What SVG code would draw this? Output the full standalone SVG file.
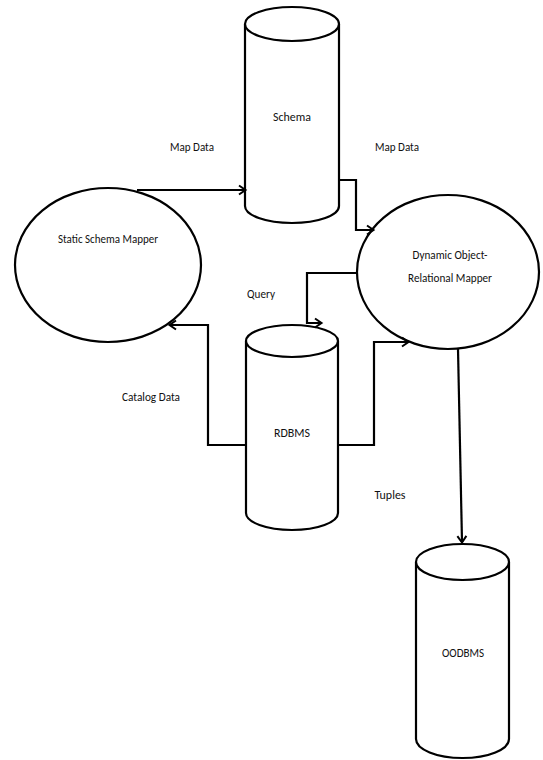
<svg xmlns="http://www.w3.org/2000/svg" width="543" height="760" viewBox="0 0 543 760">
<defs>
<marker id="arr" markerWidth="12" markerHeight="12" refX="9" refY="6" orient="auto" markerUnits="userSpaceOnUse">
<path d="M3,1.5 L9.5,6 L3,10.5" fill="none" stroke="#000" stroke-width="2"/>
</marker>
</defs>
<style>
.shape{fill:#fff;stroke:#000;stroke-width:2.2}
.line{fill:none;stroke:#000;stroke-width:2.2}
.conn{fill:none;stroke:#000;stroke-width:2.2;marker-end:url(#arr)}
text{font-family:Calibri,"Liberation Sans","DejaVu Sans",sans-serif;font-size:13px;fill:#111;text-anchor:middle}
</style>
<rect width="543" height="760" fill="#fff"/>
<g id="schema">
<path class="shape" d="M245,24 L245,206 A47,17 0 0 0 339,206 L339,24"/>
<ellipse class="shape" cx="292" cy="24" rx="47" ry="17"/>
<text x="292" y="121" textLength="38" lengthAdjust="spacingAndGlyphs">Schema</text>
</g>
<g id="rdbms">
<path class="shape" d="M246,341 L246,513 A46,17 0 0 0 338,513 L338,341"/>
<ellipse class="shape" cx="292" cy="341" rx="46" ry="16"/>
<text x="292" y="437" textLength="36" lengthAdjust="spacingAndGlyphs">RDBMS</text>
</g>
<g id="oodbms">
<path class="shape" d="M416,562 L416,739 A46.5,19 0 0 0 509,739 L509,562"/>
<ellipse class="shape" cx="462.5" cy="562" rx="46.5" ry="18"/>
<text x="463" y="657" textLength="42" lengthAdjust="spacingAndGlyphs">OODBMS</text>
</g>
<g id="static-mapper">
<ellipse class="shape" cx="108" cy="265" rx="93" ry="77"/>
<text x="108" y="243" textLength="100" lengthAdjust="spacingAndGlyphs">Static Schema Mapper</text>
</g>
<g id="dynamic-mapper">
<ellipse class="shape" cx="448" cy="272" rx="91" ry="77"/>
<text x="450" y="259" textLength="75" lengthAdjust="spacingAndGlyphs">Dynamic Object-</text>
<text x="450" y="282" textLength="84" lengthAdjust="spacingAndGlyphs">Relational Mapper</text>
</g>
<g id="connectors">
<path class="conn" d="M137,190 L245,190"/>
<path class="conn" d="M339,180 L356,180 L356,230 L373,230"/>
<path class="conn" d="M358,273 L307,273 L307,323 L321,323"/>
<path class="conn" d="M338,445 L374,445 L374,342 L408,342"/>
<path class="conn" d="M246,445 L208,445 L208,325 L170,325"/>
<path class="conn" d="M458,349 L462,542"/>
</g>
<g id="labels">
<text x="192" y="151" textLength="44" lengthAdjust="spacingAndGlyphs">Map Data</text>
<text x="397" y="151" textLength="44" lengthAdjust="spacingAndGlyphs">Map Data</text>
<text x="261" y="298" textLength="28" lengthAdjust="spacingAndGlyphs">Query</text>
<text x="151" y="401" textLength="58" lengthAdjust="spacingAndGlyphs">Catalog Data</text>
<text x="390" y="499" textLength="31" lengthAdjust="spacingAndGlyphs">Tuples</text>
</g>
</svg>
